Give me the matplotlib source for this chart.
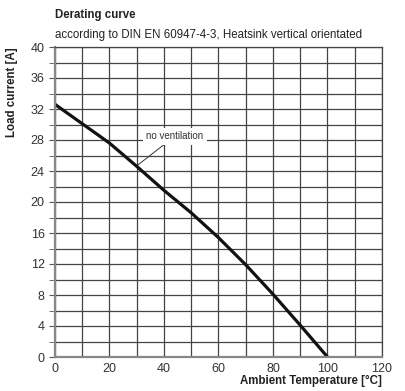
import numpy as np
from matplotlib import pyplot as plt
from matplotlib.ticker import MultipleLocator

plt.rcParams['font.family'] = ['Liberation Sans', 'DejaVu Sans']

temperature = [0, 10, 20, 30, 40, 50, 60, 70, 80, 90, 100]
current = [32.6, 30.1, 27.6, 24.6, 21.5, 18.6, 15.4, 11.9, 8.1, 4.1, 0.0]

x_ticks = [0, 20, 40, 60, 80, 100, 120]
y_ticks = [0, 4, 8, 12, 16, 20, 24, 28, 32, 36, 40]

label_xy = (44, 28.5)
arrow_xy = (30.5, 24.8)

fig = plt.figure(figsize=(4.06, 3.91), dpi=100)
ax = fig.add_axes([55 / 406, 34 / 391, 327 / 406, 310 / 391])

ax.set_xlim(0, 120)
ax.set_ylim(0, 40)
ax.xaxis.set_minor_locator(MultipleLocator(10))
ax.yaxis.set_minor_locator(MultipleLocator(2))
ax.set_xticks(x_ticks)
ax.set_yticks(y_ticks)
ax.grid(which='both', color='#444444', linewidth=0.9)
ax.set_axisbelow(True)

for s in ax.spines.values():
    s.set_color('#444444')
    s.set_linewidth(0.9)
ax.spines['left'].set_color('#888888')
ax.spines['left'].set_linewidth(1.6)
ax.spines['bottom'].set_color('#888888')
ax.spines['bottom'].set_linewidth(1.6)

ax.tick_params(which='major', length=4, color='#555555', labelsize=9, labelcolor='#333333')
ax.tick_params(axis='y', which='minor', length=4, color='#555555')
ax.tick_params(axis='x', which='minor', length=0)
ax.tick_params(axis='x', which='major', length=0, pad=4)

ax.plot(temperature, current, color='#111111', linewidth=2.3, solid_capstyle='butt')

ax.annotate('no ventilation', xy=arrow_xy, xytext=label_xy,
            ha='center', va='center', fontsize=7, color='#333333',
            bbox=dict(boxstyle='square,pad=0.35', fc='white', ec='none'),
            arrowprops=dict(arrowstyle='-', color='#333333', linewidth=0.7,
                            shrinkA=0, shrinkB=0))

fig.text(55 / 406, 1 - 15 / 391, 'Derating curve', fontsize=8.3, fontweight='bold',
         ha='left', va='center', color='#222222')
fig.text(55 / 406, 1 - 35 / 391, 'according to DIN EN 60947-4-3, Heatsink vertical orientated',
         fontsize=8.3, ha='left', va='center', color='#222222')

fig.text(382 / 406, 1 - 381 / 391, 'Ambient Temperature [°C]', fontsize=8.3,
         fontweight='bold', ha='right', va='center', color='#222222')
fig.text(12 / 406, 1 - 47 / 391, 'Load current [A]', fontsize=8.3, fontweight='bold',
         rotation=90, ha='center', va='top', color='#222222')

fig.savefig('out.png', dpi=100)
